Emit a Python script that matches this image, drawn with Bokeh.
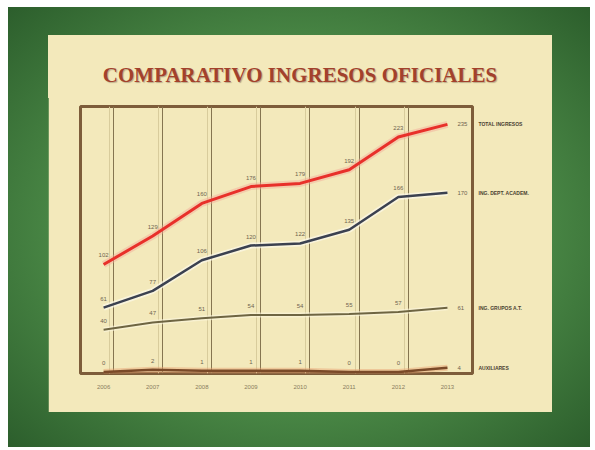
from bokeh.plotting import figure
from bokeh.models import (ColumnDataSource, LabelSet, Label, FixedTicker, Grid, Range1d,
                          LinearAxis, Div)
from bokeh.layouts import column
from bokeh.embed import file_html
from bokeh.resources import INLINE

# ---- data ----
years = [2006, 2007, 2008, 2009, 2010, 2011, 2012, 2013]
total_ingresos = [102, 129, 160, 176, 179, 192, 223, 235]
ing_academicos = [61, 77, 106, 120, 122, 135, 166, 170]
ing_grupos = [40, 47, 51, 54, 54, 55, 57, 61]
ing_auxiliares = [0, 2, 1, 1, 1, 0, 0, 4]
series_names = ["TOTAL INGRESOS", "ING. DEPT. ACADEM.", "ING. GRUPOS A.T.", "AUXILIARES"]
title_text = "COMPARATIVO INGRESOS OFICIALES"

CREAM = "#f3e9bb"
BROWN = "#7d5d3a"
LABEL_C = "#6f6450"

p = figure(width=504, height=317, x_range=Range1d(2005.53, 2013.51),
           y_range=Range1d(-1.5, 252), output_backend="svg", toolbar_location=None,
           min_border_left=32, min_border_right=80, min_border_top=11, min_border_bottom=39,
           margin=0)
p.background_fill_color = CREAM
p.border_fill_color = CREAM
p.outline_line_color = BROWN
p.outline_line_width = 3
p.yaxis.visible = False
p.xgrid.visible = False
p.ygrid.visible = False

xa = p.xaxis[0]
xa.ticker = FixedTicker(ticks=years)
xa.axis_line_color = None
xa.major_tick_line_color = None
xa.minor_tick_line_color = None
xa.major_label_text_font_size = "6px"
xa.major_label_text_color = "#8a7d60"
xa.major_label_standoff = 5

all_series = [total_ingresos, ing_academicos, ing_grupos, ing_auxiliares]

# series names on the right, at the height of each series' last value
end_vals = [s[-1] for s in all_series]
ra = LinearAxis(ticker=FixedTicker(ticks=end_vals),
                major_label_overrides={v: n for v, n in zip(end_vals, series_names)})
ra.axis_line_color = None
ra.major_tick_line_color = None
ra.minor_tick_line_color = None
ra.major_tick_out = 0
ra.major_tick_in = 0
ra.major_label_standoff = 6
ra.major_label_text_font_size = "5px"
ra.major_label_text_font_style = "bold"
ra.major_label_text_color = "#4a4232"
p.add_layout(ra, "right")

# vertical separators (slightly after each year)
vg2 = Grid(dimension=0, ticker=FixedTicker(ticks=[y + 0.12 for y in years[:-1]]),
           grid_line_color="#d8cc9c", grid_line_width=1)
p.add_layout(vg2)
vg = Grid(dimension=0, ticker=FixedTicker(ticks=[y + 0.2 for y in years[:-1]]),
          grid_line_color="#857550", grid_line_width=1)
p.add_layout(vg)

# lines
p.line(years, ing_auxiliares, color="#e8a070", line_width=6, alpha=0.45)
p.line(years, ing_auxiliares, color="#7a4a28", line_width=2.5)
p.line(years, ing_grupos, color="#fbf6e0", line_width=5, alpha=0.6)
p.line(years, ing_grupos, color="#6e6542", line_width=2)
p.line(years, ing_academicos, color="#fbf8ea", line_width=6, alpha=0.7)
p.line(years, ing_academicos, color="#3b4150", line_width=2.5)
p.line(years, total_ingresos, color="#f4a898", line_width=7, alpha=0.45)
p.line(years, total_ingresos, color="#e8302a", line_width=3)

# value labels above the points (all but the last)
xs, ys, ts = [], [], []
for s in all_series:
    for x, v in zip(years[:-1], s[:-1]):
        xs.append(x); ys.append(v); ts.append(str(v))
src = ColumnDataSource(dict(x=xs, y=ys, t=ts))
p.add_layout(LabelSet(x="x", y="y", text="t", source=src, y_offset=7,
                      text_align="center", text_baseline="bottom",
                      text_font_size="6px", text_color=LABEL_C))

# end labels to the right of the last point
for s in all_series:
    p.add_layout(Label(x=years[-1], y=s[-1], text=str(s[-1]), x_offset=10,
                       text_align="left", text_baseline="middle",
                       text_font_size="6px", text_color=LABEL_C))

title = Div(text=title_text, width=504, height=60, margin=0, styles={
    "background": CREAM,
    "box-sizing": "border-box",
    "padding-top": "28px",
    "text-align": "center",
    "font-family": "'Liberation Serif', serif",
    "font-weight": "bold",
    "font-size": "21px",
    "line-height": "24px",
    "color": "#a3412c",
    "text-shadow": "1px 1px 1px #b9ab88",
    "width": "504px",
    "box-shadow": f"0 3px 0 {CREAM}",
})

green = column(title, p, spacing=0, margin=0, styles={
    "background": "radial-gradient(ellipse at center, #4f8f4a 50%, #2c5e2c 100%)",
    "padding": "28px 38px 35px 40px",
})
page = column(green, margin=0, styles={"padding": "7px 0 0 8px", "background": "white"})

open("out.html", "w").write(file_html(page, INLINE))
